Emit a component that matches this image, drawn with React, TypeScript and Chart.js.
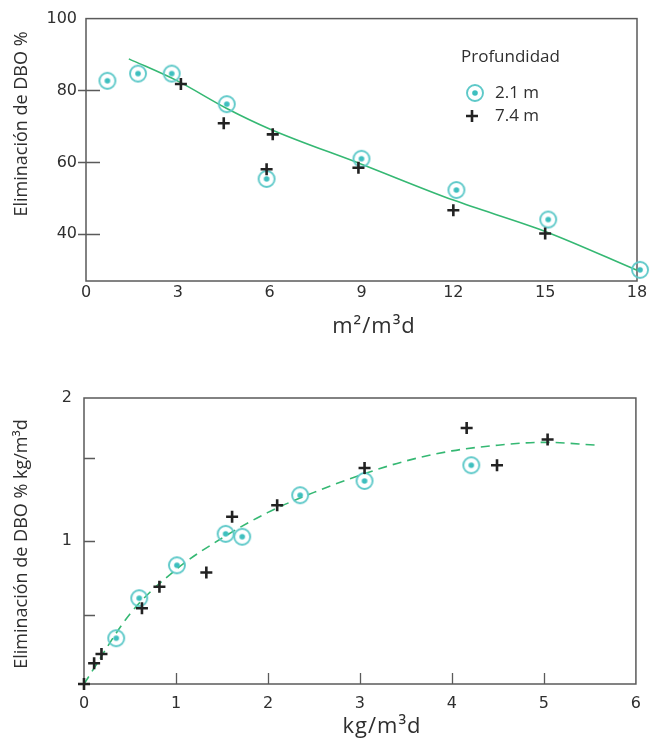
import React, { useEffect, useRef } from "react";
import { Chart, registerables } from "chart.js";

Chart.register(...registerables);

// ---------- Top chart data (x: m²/m³d, y: Eliminación de DBO %) ----------
const topX21 = [0.7, 1.7, 2.8, 4.6, 5.9, 9.0, 12.1, 15.1, 18.1];
const topY21 = [82.7, 84.7, 84.7, 76.2, 55.4, 61.0, 52.3, 44.1, 30.1];
const topX74 = [3.1, 4.5, 6.1, 5.9, 8.9, 12.0, 15.0];
const topY74 = [81.8, 70.9, 67.8, 58.1, 58.5, 46.7, 40.2];
const topFitX = [1.4, 3, 4.6, 6, 9, 12, 15, 18];
const topFitY = [88.8, 82.6, 75.0, 69.3, 59.5, 49.5, 40.8, 30.0];
const topYTicks = [40, 60, 80, 100];
const topYMarks = [40, 60, 80];
const topXTicks = [0, 3, 6, 9, 12, 15, 18];

// ---------- Bottom chart data (x: kg/m³d, y: Eliminación de DBO % kg/m³d) ----------
const botX21 = [0.35, 0.6, 1.01, 1.54, 1.72, 2.35, 3.05, 4.21];
const botY21 = [0.32, 0.6, 0.83, 1.05, 1.03, 1.32, 1.42, 1.53];
const botX74 = [0, 0.11, 0.19, 0.63, 0.82, 1.33, 1.61, 2.1, 3.05, 4.16, 4.49, 5.04];
const botY74 = [0, 0.145, 0.21, 0.53, 0.68, 0.78, 1.17, 1.25, 1.51, 1.79, 1.53, 1.71];
const botFitX = [0, 0.5, 1, 1.5, 2, 2.5, 3, 3.5, 4, 4.5, 5, 5.58];
const botFitY = [0, 0.49, 0.8, 1.02, 1.2, 1.34, 1.46, 1.56, 1.63, 1.67, 1.69, 1.67];
const botYTicks = [1, 2];
const botYMarks = [0.48, 1, 1.58];
const botXTicks = [0, 1, 2, 3, 4, 5, 6];
const botXMarks = [1, 2, 3, 4, 5];

const legendTitle = "Profundidad";
const legendLabels = ["2.1 m", "7.4 m"];

const TICK_FONT = "'DejaVu Sans', sans-serif";
const TITLE_FONT = "'Open Sans', sans-serif";
const RING = "#5ec9c9";
const DOT = "#3fbfbf";
const GREEN = "#35b873";
const TXT = "#2f2f2f";

const pts = (xs: number[], ys: number[]) => xs.map((x, i) => ({ x, y: ys[i] }));

function makeRing(): HTMLCanvasElement {
  const c = document.createElement("canvas");
  c.width = 22;
  c.height = 22;
  const g = c.getContext("2d")!;
  g.strokeStyle = RING;
  g.lineWidth = 1.9;
  g.beginPath();
  g.arc(11, 11, 8, 0, Math.PI * 2);
  g.stroke();
  g.fillStyle = DOT;
  g.beginPath();
  g.arc(11, 11, 2.8, 0, Math.PI * 2);
  g.fill();
  return c;
}

const overlayPlugin = {
  id: "overlay",
  beforeDatasetsDraw(chart: any, _a: any, o: any) {
    const { ctx, chartArea: a, scales } = chart;
    ctx.save();
    ctx.strokeStyle = "#5a5a5a";
    ctx.lineWidth = 1.5;
    ctx.strokeRect(a.left, a.top, a.right - a.left, a.bottom - a.top);
    ctx.lineWidth = 1.3;
    ctx.beginPath();
    for (const v of o.yMarks) {
      const y = Math.round(scales.y.getPixelForValue(v)) + 0.5;
      ctx.moveTo(a.left - o.yOut, y);
      ctx.lineTo(a.left + o.yIn, y);
    }
    for (const v of o.xMarks) {
      const x = Math.round(scales.x.getPixelForValue(v)) + 0.5;
      ctx.moveTo(x, a.bottom);
      ctx.lineTo(x, a.bottom - o.xIn);
    }
    ctx.stroke();
    ctx.restore();
  },
  afterDraw(chart: any, _a: any, o: any) {
    const { ctx } = chart;
    ctx.save();
    ctx.fillStyle = TXT;
    // x title
    ctx.font = `${o.xTitle.size}px ${TITLE_FONT}`;
    (ctx as any).letterSpacing = o.xTitle.spacing + "px";
    ctx.textAlign = "center";
    ctx.textBaseline = "alphabetic";
    ctx.fillText(o.xTitle.text, o.xTitle.x, o.xTitle.y);
    (ctx as any).letterSpacing = "0px";
    // y title
    ctx.save();
    ctx.translate(o.yTitle.x, o.yTitle.y);
    ctx.rotate(-Math.PI / 2);
    ctx.font = `${o.yTitle.size}px ${TITLE_FONT}`;
    ctx.textBaseline = "middle";
    ctx.fillText(o.yTitle.text, 0, 0);
    ctx.restore();
    // legend
    if (o.legend) {
      const L = o.legend;
      ctx.font = `${L.size}px ${TITLE_FONT}`;
      ctx.textAlign = "left";
      ctx.textBaseline = "middle";
      ctx.fillText(legendTitle, L.x, L.y);
      const ring = chart.data.datasets[1].pointStyle;
      ctx.drawImage(ring, L.mx - ring.width / 2, L.y1 - ring.height / 2);
      ctx.fillText(legendLabels[0], L.tx, L.y1);
      ctx.strokeStyle = "#222";
      ctx.lineWidth = 2.6;
      ctx.beginPath();
      ctx.moveTo(L.mx - 3 - 6, L.y2);
      ctx.lineTo(L.mx - 3 + 6, L.y2);
      ctx.moveTo(L.mx - 3, L.y2 - 6);
      ctx.lineTo(L.mx - 3, L.y2 + 6);
      ctx.stroke();
      ctx.fillText(legendLabels[1], L.tx, L.y2);
    }
    ctx.restore();
  },
};

function buildConfig(p: any): any {
  const ring = makeRing();
  return {
    type: "scatter",
    data: {
      datasets: [
        {
          type: "line",
          data: pts(p.fitX, p.fitY),
          borderColor: GREEN,
          borderWidth: 1.6,
          borderDash: p.dash,
          pointRadius: 0,
          cubicInterpolationMode: "monotone",
          fill: false,
          clip: false,
          order: 3,
        },
        {
          label: legendLabels[0],
          data: pts(p.x21, p.y21),
          pointStyle: ring,
          pointRadius: 8,
          clip: false,
          order: 2,
        },
        {
          label: legendLabels[1],
          data: pts(p.x74, p.y74),
          pointStyle: "cross",
          pointRadius: 6,
          borderColor: "#222",
          borderWidth: 2.6,
          clip: false,
          order: 1,
        },
      ],
    },
    options: {
      animation: false,
      responsive: false,
      events: [],
      layout: { padding: p.padding },
      plugins: {
        legend: { display: false },
        tooltip: { enabled: false },
        overlay: p.overlay,
      },
      scales: {
        x: {
          type: "linear",
          min: p.xMin,
          max: p.xMax,
          grid: { display: false, drawTicks: false },
          border: { display: false },
          afterBuildTicks: (s: any) => {
            s.ticks = p.xTicks.map((v: number) => ({ value: v }));
          },
          afterFit: (s: any) => {
            s.height = p.xHeight;
          },
          ticks: {
            font: { family: TICK_FONT, size: 16 },
            color: TXT,
            padding: p.xPad,
            maxRotation: 0,
            autoSkip: false,
          },
        },
        y: {
          type: "linear",
          min: p.yMin,
          max: p.yMax,
          grid: { display: false, drawTicks: false },
          border: { display: false },
          afterBuildTicks: (s: any) => {
            s.ticks = p.yTicks.map((v: number) => ({ value: v }));
          },
          afterFit: (s: any) => {
            s.width = p.yWidth;
          },
          ticks: {
            font: { family: TICK_FONT, size: 16 },
            color: TXT,
            padding: p.yPad,
            autoSkip: false,
          },
        },
      },
    },
    plugins: [overlayPlugin],
  };
}

function ChartCanvas({ cfg, top, height }: { cfg: () => any; top: number; height: number }) {
  const ref = useRef<HTMLCanvasElement>(null);
  useEffect(() => {
    const chart = new Chart(ref.current!, cfg());
    return () => chart.destroy();
  }, []);
  return (
    <canvas
      ref={ref}
      width={651}
      height={height}
      style={{ position: "absolute", left: 0, top, width: 651, height }}
    />
  );
}

const topCfg = () =>
  buildConfig({
    fitX: topFitX,
    fitY: topFitY,
    x21: topX21,
    y21: topY21,
    x74: topX74,
    y74: topY74,
    dash: [],
    padding: { left: 0, top: 14, right: 14, bottom: 0 },
    xMin: 0,
    xMax: 18,
    yMin: 27,
    yMax: 100,
    xTicks: topXTicks,
    yTicks: topYTicks,
    xHeight: 345 - 281,
    yWidth: 86,
    xPad: 2,
    yPad: 9,
    overlay: {
      yMarks: topYMarks,
      xMarks: [],
      yOut: 8,
      yIn: 14,
      xIn: 0,
      xTitle: { text: "m²/m³d", x: 374, y: 333, size: 22, spacing: 1 },
      yTitle: { text: "Eliminación de DBO %", x: 22, y: 124, size: 18 },
      legend: { x: 461, y: 57, y1: 93, y2: 116, mx: 475, tx: 495, size: 17 },
    },
  });

const botCfg = () =>
  buildConfig({
    fitX: botFitX,
    fitY: botFitY,
    x21: botX21,
    y21: botY21,
    x74: botX74,
    y74: botY74,
    dash: [9, 6],
    padding: { left: 0, top: 53, right: 13, bottom: 0 },
    xMin: 0,
    xMax: 6,
    yMin: 0,
    yMax: 2,
    xTicks: botXTicks,
    yTicks: botYTicks,
    xHeight: 400 - 339,
    yWidth: 84,
    xPad: 10,
    yPad: 12,
    overlay: {
      yMarks: botYMarks,
      xMarks: botXMarks,
      yOut: 0,
      yIn: 11,
      xIn: 11,
      xTitle: { text: "kg/m³d", x: 382, y: 388, size: 22, spacing: 1 },
      yTitle: { text: "Eliminación de DBO % kg/m³d", x: 22, y: 199, size: 18 },
      legend: null,
    },
  });

export default function App() {
  return (
    <div style={{ position: "fixed", left: 0, top: 0, width: 651, height: 745, background: "#fff" }}>
      <ChartCanvas cfg={topCfg} top={0} height={345} />
      <ChartCanvas cfg={botCfg} top={345} height={400} />
    </div>
  );
}
